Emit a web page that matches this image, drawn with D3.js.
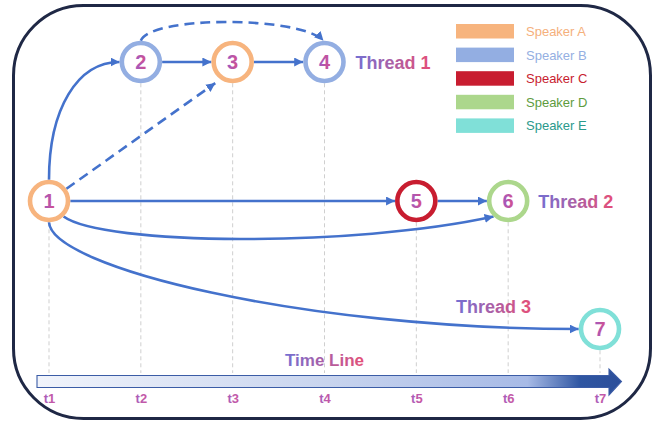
<!DOCTYPE html>
<html>
<head>
<meta charset="utf-8">
<script src="https://cdn.jsdelivr.net/npm/d3@7"></script>
<style>
  body { margin: 0; background: #fff; }
  svg { display: block; font-family: "Liberation Sans", Arial, Helvetica, sans-serif; }
</style>
</head>
<body>
<svg width="659" height="424"></svg>
<script>
// time steps, threads and speakers
var times = ["t1", "t2", "t3", "t4", "t5", "t6", "t7"];
var threads = ["Thread 1", "Thread 2", "Thread 3"];
var speakers = ["Speaker A", "Speaker B", "Speaker C", "Speaker D", "Speaker E"];
var speakerColors = ["#f7b47e", "#93aee2", "#c81d30", "#acd78c", "#80e0d8"];
var speakerTextColors = ["#f5b07c", "#95afe2", "#c81d30", "#5e9c3e", "#2b9a8c"];

// utterances: id, time step, thread, speaker
var utterances = [
  { id: "1", time: "t1", thread: "Thread 2", speaker: "Speaker A" },
  { id: "2", time: "t2", thread: "Thread 1", speaker: "Speaker B" },
  { id: "3", time: "t3", thread: "Thread 1", speaker: "Speaker A" },
  { id: "4", time: "t4", thread: "Thread 1", speaker: "Speaker B" },
  { id: "5", time: "t5", thread: "Thread 2", speaker: "Speaker C" },
  { id: "6", time: "t6", thread: "Thread 2", speaker: "Speaker D" },
  { id: "7", time: "t7", thread: "Thread 3", speaker: "Speaker E" }
];

// replies: source, target, kind
var replies = [
  ["1", "2", "direct"],
  ["1", "3", "indirect"],
  ["2", "3", "direct"],
  ["3", "4", "direct"],
  ["2", "4", "indirect"],
  ["1", "5", "direct"],
  ["5", "6", "direct"],
  ["1", "6", "direct"],
  ["1", "7", "direct"]
];

var svg = d3.select("svg");
var defs = svg.append("defs");

var x = d3.scalePoint().domain(times).range([49, 600]);
var y = d3.scaleOrdinal().domain(threads).range([62, 201, 329]);
var color = d3.scaleOrdinal().domain(speakers).range(speakerColors);
var textColor = d3.scaleOrdinal().domain(speakers).range(speakerTextColors);

var r = 19, sw = 4.6, R = r + sw / 2;
var byId = {};
utterances.forEach(function (d) {
  d.x = x(d.time);
  d.y = y(d.thread);
  byId[d.id] = d;
});

// gradients
function grad(id, c1, c2) {
  var g = defs.append("linearGradient").attr("id", id)
    .attr("x1", "0%").attr("x2", "100%").attr("y1", "0%").attr("y2", "0%");
  g.append("stop").attr("offset", "0%").attr("stop-color", c1);
  g.append("stop").attr("offset", "100%").attr("stop-color", c2);
}
grad("labelGrad", "#746fd2", "#e44f78");
grad("numGrad", "#9d5ac2", "#d5508c");
grad("tickGrad", "#a65fbd", "#cc56a0");

var barGrad = defs.append("linearGradient").attr("id", "barGrad")
  .attr("gradientUnits", "userSpaceOnUse")
  .attr("x1", 37).attr("x2", 621).attr("y1", 0).attr("y2", 0);
[[0, "#f1f4fb"], [0.5, "#c8d4ee"], [0.84, "#a7bae6"], [0.93, "#2f56a2"], [1, "#2c4f9a"]]
  .forEach(function (s) {
    barGrad.append("stop").attr("offset", s[0]).attr("stop-color", s[1]);
  });

defs.append("marker")
  .attr("id", "arrow")
  .attr("viewBox", "0 0 10 10")
  .attr("refX", 10).attr("refY", 5)
  .attr("markerUnits", "userSpaceOnUse")
  .attr("markerWidth", 9).attr("markerHeight", 9)
  .attr("orient", "auto")
  .append("path")
  .attr("d", "M0,0L10,5L0,10z")
  .attr("fill", "#4472cc");

// outer frame
svg.append("rect")
  .attr("x", 13.5).attr("y", 5.5)
  .attr("width", 637).attr("height", 413)
  .attr("rx", 70).attr("ry", 70)
  .attr("fill", "#fff")
  .attr("stroke", "#1f2845")
  .attr("stroke-width", 3);

// dashed time guides under each utterance
svg.append("g").selectAll("line")
  .data(utterances)
  .enter().append("line")
  .attr("x1", function (d) { return d.x; })
  .attr("x2", function (d) { return d.x; })
  .attr("y1", function (d) { return d.y + R; })
  .attr("y2", 373)
  .attr("stroke", "#cfcfcf")
  .attr("stroke-width", 1)
  .attr("stroke-dasharray", "4,3");

// edge geometry
function edgePath(e) {
  var s = byId[e[0]], t = byId[e[1]];
  var p = d3.path();
  var si = times.indexOf(s.time), ti = times.indexOf(t.time);
  if (s.thread === t.thread) {
    var between = utterances.some(function (u) {
      var ui = times.indexOf(u.time);
      return u.thread === s.thread && ui > si && ui < ti;
    });
    if (!between) {
      p.moveTo(s.x + R, s.y);
      p.lineTo(t.x - R, t.y);
    } else if (threads.indexOf(s.thread) === 0) {
      // arc over the top
      p.moveTo(s.x, s.y - R);
      p.bezierCurveTo(s.x + 10, s.y - R - 25, t.x - 25, t.y - R - 25, t.x - 1, t.y - R);
    } else {
      // arc underneath
      var a0 = Math.PI * 0.26, a1 = Math.PI * 0.74;
      var x0 = s.x + R * Math.cos(a0), y0 = s.y + R * Math.sin(a0);
      var x3 = t.x + R * Math.cos(a1), y3 = t.y + R * Math.sin(a1);
      p.moveTo(x0, y0);
      p.bezierCurveTo(x0 + 40, y0 + 29, x3 - 0.33 * (x3 - x0), y3 + 31, x3, y3);
    }
  } else if (e[2] === "indirect") {
    var ang = Math.atan2(t.y + 10 - s.y, t.x - s.x);
    p.moveTo(s.x + R * Math.cos(ang), s.y + R * Math.sin(ang));
    var ang2 = Math.atan2(s.y - (t.y + 10), s.x - t.x);
    p.lineTo(t.x + R * Math.cos(ang2), t.y + 10 + (R - 2) * Math.sin(ang2));
  } else if (t.y < s.y) {
    // rising curve
    var ax = s.x, ay = s.y - R, bx = t.x - R, by = t.y;
    p.moveTo(ax, ay);
    p.bezierCurveTo(ax, ay - 0.6 * (ay - by), ax + 0.4 * (bx - ax), by, bx, by);
  } else {
    // falling curve
    var cx = s.x, cy = s.y + R, dx = t.x - R, dy = t.y;
    p.moveTo(cx, cy);
    p.bezierCurveTo(cx + 2, cy + 45, cx + 0.48 * (dx - cx), dy, dx, dy);
  }
  return p.toString();
}

svg.append("g").selectAll("path")
  .data(replies)
  .enter().append("path")
  .attr("d", edgePath)
  .attr("fill", "none")
  .attr("stroke", "#4472cc")
  .attr("stroke-width", 2.6)
  .attr("stroke-dasharray", function (e) { return e[2] === "indirect" ? "10,6" : null; })
  .attr("marker-end", "url(#arrow)");

// utterance nodes
var node = svg.append("g").selectAll("g")
  .data(utterances)
  .enter().append("g")
  .attr("transform", function (d) { return "translate(" + d.x + "," + d.y + ")"; });

node.append("circle")
  .attr("r", r)
  .attr("fill", "#fff")
  .attr("stroke", function (d) { return color(d.speaker); })
  .attr("stroke-width", sw);

node.append("text")
  .attr("text-anchor", "middle")
  .attr("dy", "0.36em")
  .attr("font-size", 20)
  .attr("font-weight", "bold")
  .attr("fill", "url(#numGrad)")
  .text(function (d) { return d.id; });

// thread labels
var threadLabelPos = {
  "Thread 1": function (u) { return [u.x + 31, u.y + 7]; },
  "Thread 2": function (u) { return [u.x + 30, u.y + 7]; },
  "Thread 3": function (u) { return [u.x - 144, u.y - 16]; }
};
threads.forEach(function (th) {
  var last = utterances.filter(function (u) { return u.thread === th; }).pop();
  var pos = threadLabelPos[th](last);
  svg.append("text")
    .attr("x", pos[0]).attr("y", pos[1])
    .attr("font-size", 18)
    .attr("font-weight", "bold")
    .attr("fill", "url(#labelGrad)")
    .text(th);
});

// legend
var legend = svg.append("g").attr("transform", "translate(456,24)")
  .selectAll("g")
  .data(speakers)
  .enter().append("g")
  .attr("transform", function (d, i) { return "translate(0," + i * 23.6 + ")"; });

legend.append("rect")
  .attr("width", 58).attr("height", 14.5)
  .attr("fill", color);

legend.append("text")
  .attr("x", 70).attr("y", 7.5)
  .attr("dy", "0.35em")
  .attr("font-size", 13)
  .attr("fill", textColor)
  .text(function (d) { return d; });

// time line arrow
svg.append("path")
  .attr("d", "M37,375.5H609V369L621.5,381.5L609,395V387.5H37Z")
  .attr("fill", "url(#barGrad)")
  .attr("stroke", "#3b5ca6")
  .attr("stroke-width", 1.1);

svg.append("text")
  .attr("x", x("t4")).attr("y", 366)
  .attr("text-anchor", "middle")
  .attr("font-size", 17)
  .attr("font-weight", "bold")
  .attr("fill", "url(#labelGrad)")
  .text("Time Line");

// time axis labels
var axis = svg.append("g")
  .attr("transform", "translate(0,390)")
  .call(d3.axisBottom(x).tickSize(0).tickPadding(4));
axis.select(".domain").remove();
axis.selectAll("text")
  .attr("font-size", 13)
  .attr("font-weight", "bold")
  .attr("font-family", "\"Liberation Sans\", Arial, sans-serif")
  .attr("fill", "url(#tickGrad)");
</script>
</body>
</html>
